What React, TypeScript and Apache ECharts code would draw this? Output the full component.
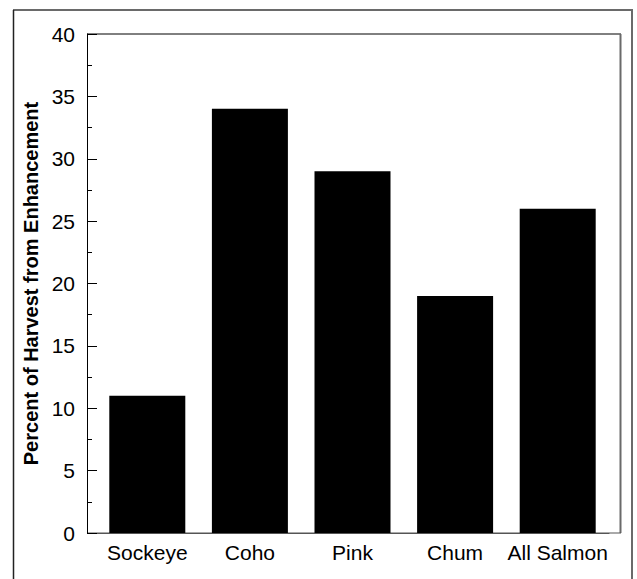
import React, { useEffect, useRef } from "react";
import * as echarts from "echarts";

const categories = ["Sockeye", "Coho", "Pink", "Chum", "All Salmon"];
const values = [11, 34, 29, 19, 26];
const yMin = 0;
const yMax = 40;
const yInterval = 5;
const yAxisTitle = "Percent of Harvest from Enhancement";

const FONT = "'Liberation Sans', Arial, Helvetica, sans-serif";

export default function App() {
  const ref = useRef<HTMLDivElement>(null);
  useEffect(() => {
    if (!ref.current) return;
    const chart = echarts.init(ref.current, null, { renderer: "svg" });
    chart.setOption({
      animation: false,
      backgroundColor: "#ffffff",
      grid: { left: 96, top: 34, width: 513, height: 499, containLabel: false },
      xAxis: {
        type: "category",
        data: categories,
        axisLine: { show: true, lineStyle: { color: "#555555", width: 1 } },
        axisTick: {
          show: true,
          alignWithLabel: true,
          inside: true,
          length: 4,
          interval: 0,
          lineStyle: { color: "#777777" },
        },
        axisLabel: { color: "#000", fontSize: 21, fontFamily: FONT, margin: 9, interval: 0 },
        splitLine: { show: false },
      },
      yAxis: {
        type: "value",
        min: yMin,
        max: yMax,
        interval: yInterval,
        offset: 9,
        name: yAxisTitle,
        nameLocation: "middle",
        nameGap: 42,
        nameTextStyle: { color: "#000", fontSize: 20, fontWeight: "bold", fontFamily: FONT },
        axisLine: { show: true, lineStyle: { color: "#000", width: 1 } },
        axisTick: { show: true, inside: true, length: 10, lineStyle: { color: "#000" } },
        minorTick: { show: true, splitNumber: 2, length: 5, lineStyle: { color: "#000" } },
        axisLabel: { color: "#000", fontSize: 21, fontFamily: FONT, margin: 12 },
        splitLine: { show: false },
      },
      graphic: [
        // outer frame
        { type: "line", shape: { x1: 13, y1: 10, x2: 633, y2: 10 }, style: { stroke: "#6a6a6a", lineWidth: 2 } },
        { type: "line", shape: { x1: 632, y1: 10, x2: 632, y2: 579 }, style: { stroke: "#6a6a6a", lineWidth: 2 } },
        { type: "line", shape: { x1: 13.5, y1: 10, x2: 13.5, y2: 579 }, style: { stroke: "#222222", lineWidth: 1.5 } },
        // plot frame
        { type: "line", shape: { x1: 87, y1: 34, x2: 621, y2: 34 }, style: { stroke: "#000", lineWidth: 1 } },
        { type: "line", shape: { x1: 620.5, y1: 34, x2: 620.5, y2: 533 }, style: { stroke: "#6a6a6a", lineWidth: 2 } },
        { type: "line", shape: { x1: 87, y1: 533, x2: 621, y2: 533 }, style: { stroke: "#555555", lineWidth: 1 } },
      ],
      series: [
        {
          type: "bar",
          data: values,
          barWidth: 76,
          itemStyle: { color: "#000000" },
          z: 1,
        },
      ],
    });
    return () => chart.dispose();
  }, []);
  return (
    <div
      ref={ref}
      style={{ position: "absolute", left: 0, top: 0, width: 637, height: 579 }}
    />
  );
}
